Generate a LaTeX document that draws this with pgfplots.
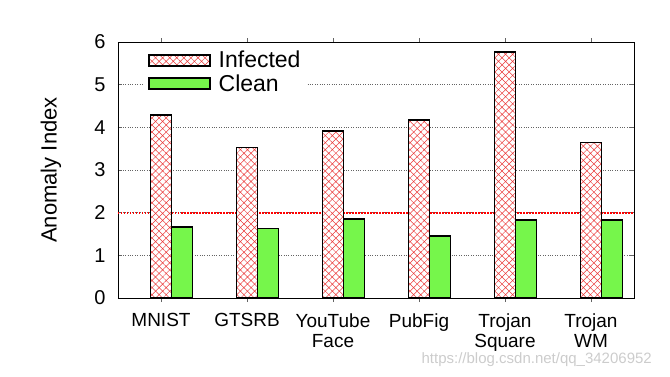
\documentclass[border=0pt]{standalone}
\usepackage{pgfplots}
\pgfplotsset{compat=1.18}
\usepackage{fontspec}
\setmainfont{Liberation Sans}
\usetikzlibrary{patterns.meta}

\definecolor{cleangreen}{RGB}{118,246,75}
\definecolor{hatchred}{RGB}{235,60,60}
\definecolor{gridgray}{RGB}{100,100,100}

\tikzset{
  infected/.style={draw=black, line width=1.5pt,
    preaction={fill=white},
    preaction={pattern={Hatch[angle=45,distance=5pt,line width=0.5pt]}, pattern color=hatchred}},
  clean/.style={draw=black, line width=1.5pt, fill=cleangreen},
}

\begin{document}
\begin{tikzpicture}
\path[use as bounding box] (-118pt,-78pt) rectangle (552pt,298pt);
\begin{axis}[
  scale only axis,
  width=516pt, height=256pt,
  at={(0pt,0pt)}, anchor=south west,
  xmin=-0.5, xmax=5.5,
  ymin=0, ymax=6,
  ytick={0,1,2,3,4,5,6},
  xtick={0,1,2,3,4,5},
  xticklabels={MNIST, GTSRB, {YouTube\\Face}, PubFig, {Trojan\\Square}, {Trojan\\WM}},
  xticklabel style={align=center, font=\fontsize{19}{20}\selectfont, yshift=-8pt},
  yticklabel style={font=\fontsize{20}{22}\selectfont, xshift=-9pt},
  /pgf/number format/assume math mode=true,
  ylabel={Anomaly Index},
  ylabel style={font=\fontsize{22}{24}\selectfont, at={(axis description cs:-0.13,0.5)}, anchor=center},
  tick align=inside,
  major tick length=4pt,
  tick style={gridgray, line width=0.6pt},
  axis line style={black, line width=0.8pt},
  ymajorgrids,
  grid style={gridgray, dotted, line width=0.6pt},
  ybar, bar width=21pt,
  legend style={at={(axis description cs:0,1)}, anchor=north west,
    xshift=26pt, yshift=-5pt, draw=none, fill=white,
    font=\fontsize{23}{25}\selectfont, row sep=1pt, column sep=6pt,
    inner xsep=4pt, inner ysep=2pt},
  legend cell align=left,
  legend image code/.code={\draw[#1] (0pt,-5.5pt) rectangle (61pt,5.5pt);},
]
% threshold at anomaly index 2, behind the bars
\addplot[forget plot, sharp plot, red, line width=2pt, dash pattern=on 1.5pt off 1.5pt]
  coordinates {(-0.5,2) (5.5,2)};
\addplot[infected, bar shift=0pt] coordinates {
  (0,4.29) (1,3.53) (2,3.91) (3,4.17) (4,5.76) (5,3.65)};
\addplot[clean, bar shift=21pt] coordinates {
  (0,1.67) (1,1.63) (2,1.85) (3,1.45) (4,1.83) (5,1.83)};
\legend{Infected, Clean}
\end{axis}
\node[anchor=south east, text=black!20, font=\fontsize{15}{16}\selectfont, inner sep=0pt]
  at (534pt,-69pt) {https://blog.csdn.net/qq\_34206952};
\end{tikzpicture}
\end{document}
